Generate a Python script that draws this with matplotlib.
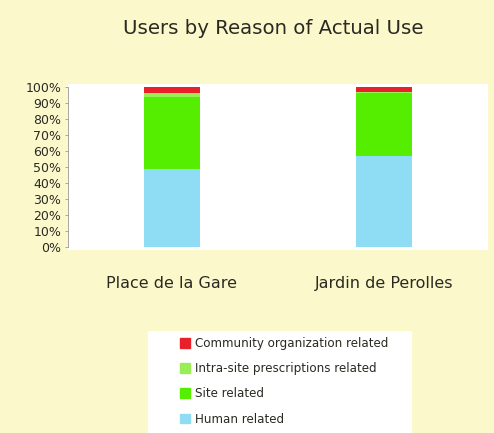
import numpy as np
import matplotlib.pyplot as plt
from matplotlib.patches import Patch, Rectangle

plt.rcParams['font.family'] = ['DejaVu Sans']

# Datos (porcentajes)
sites = ["Place de la Gare", "Jardin de Perolles"]
human = [49, 57]
site_rel = [45, 39]
intra_site = [2, 1]
community = [4, 3]

colors = {"human": "#8fdcf5", "site": "#55ee00", "intra": "#99ee55", "comm": "#e8202a"}
bg = "#fbf9cc"
txt = "#2a2a22"

fig = plt.figure(figsize=(4.94, 4.33), dpi=100, facecolor=bg)
W, H = 494, 433
ax = fig.add_axes([68 / W, 1 - 250 / H, (488 - 68) / W, (250 - 84) / H])
ax.set_facecolor("white")

x = np.arange(len(sites))
w = 0.26
b1 = np.array(human)
b2 = b1 + np.array(site_rel)
b3 = b2 + np.array(intra_site)
ax.bar(x, human, w, color=colors["human"])
ax.bar(x, site_rel, w, bottom=b1, color=colors["site"])
ax.bar(x, intra_site, w, bottom=b2, color=colors["intra"])
ax.bar(x, community, w, bottom=b3, color=colors["comm"])

ax.set_xlim(-0.49, 1.49)
ax.set_ylim(-1.875, 101.875)
ax.set_yticks(range(0, 101, 10))
ax.set_yticklabels([f"{v}%" for v in range(0, 101, 10)], fontsize=9, color=txt)
ax.set_xticks([])
for s in ["top", "right", "bottom"]:
    ax.spines[s].set_visible(False)
ax.spines["left"].set_color("#999999")
ax.spines["left"].set_linewidth(0.6)
ax.spines["left"].set_bounds(0, 100)
ax.tick_params(axis="y", length=2, width=0.6, color="#999999", pad=3)

for xi, name in zip(x, sites):
    ax.text(xi, -23, name, ha="center", va="center", fontsize=11.5, color=txt)

fig.text(273 / W, 1 - 28 / H, "Users by Reason of Actual Use", ha="center", va="center",
         fontsize=14.2, color=txt)

# Caja blanca de la leyenda
fig.patches.append(Rectangle((148 / W, 0), 264 / W, (433 - 331) / H, transform=fig.transFigure,
                             facecolor="white", edgecolor="none", zorder=0))

handles = [Patch(color=colors["comm"]), Patch(color=colors["intra"]),
           Patch(color=colors["site"]), Patch(color=colors["human"])]
labels = ["Community organization related", "Intra-site prescriptions related",
          "Site related", "Human related"]
leg = fig.legend(handles, labels, loc="upper left", bbox_to_anchor=(180 / W, 1 - 337 / H),
                 fontsize=8.6, frameon=False, handlelength=0.85, handleheight=0.85,
                 handletextpad=0.4, labelspacing=1.02, borderpad=0, borderaxespad=0)
for t in leg.get_texts():
    t.set_color(txt)

fig.savefig("out.png", dpi=100, facecolor=bg)
